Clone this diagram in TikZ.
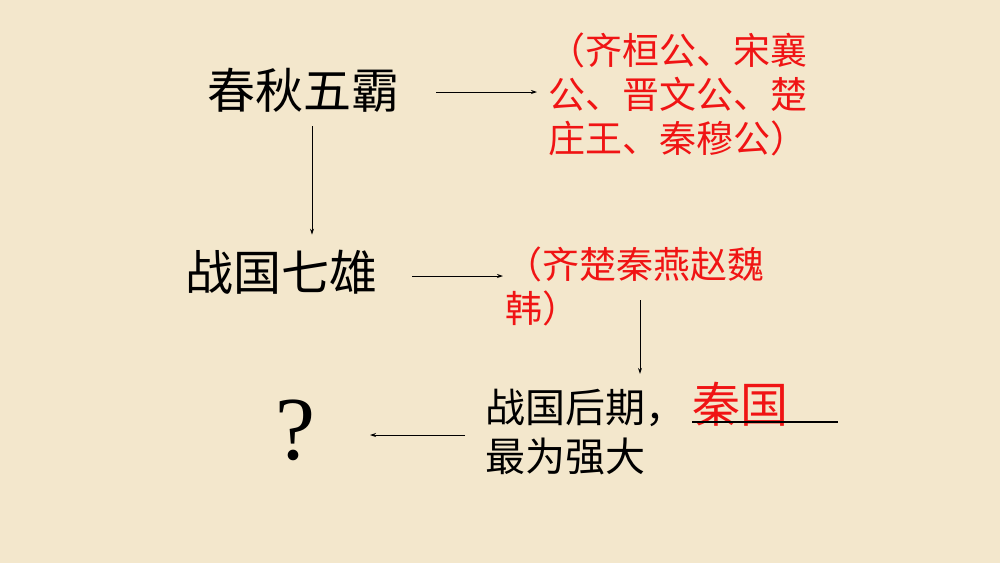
\documentclass[tikz,border=0pt]{standalone}
\usepackage{fontspec}
\setmainfont{Liberation Serif}
\newfontfamily\cjk{Noto Sans CJK SC}
\usetikzlibrary{arrows.meta}
\definecolor{bg}{HTML}{F3E7CC}
\definecolor{redtxt}{HTML}{F01414}
\begin{document}
\begin{tikzpicture}[x=1pt,y=-1pt,
  bigtxt/.style={inner sep=0pt,anchor=west,font=\cjk\fontsize{48}{58}\selectfont},
  redblock/.style={inner sep=0pt,anchor=west,align=left,text=redtxt,font=\cjk\fontsize{37}{44}\selectfont},
  midtxt/.style={inner sep=0pt,anchor=west,align=left,font=\cjk\fontsize{40}{49}\selectfont},
  arr/.style={draw=black,line width=0.8pt,-{Stealth[length=6pt,width=4pt]}}]
\fill[bg] (0,0) rectangle (1000,563);
\useasboundingbox (0,0) rectangle (1000,563);
% texts
\node[bigtxt] (cq) at (207,90) {春秋五霸};
\node[redblock] (wuba) at (548,94) {（齐桓公、宋襄\\公、晋文公、楚\\庄王、秦穆公）};
\node[bigtxt] (zg) at (185,272) {战国七雄};
\node[redblock] (qixiong) at (505,286) {（齐楚秦燕赵魏\\韩）};
\node[midtxt] (late) at (485,432) {战国后期，\\最为强大};
\node[inner sep=0pt,anchor=west,text=redtxt,font=\cjk\fontsize{48}{58}\selectfont] (qin) at (692,404) {秦国};
\node[inner sep=0pt,font=\fontsize{90}{100}\selectfont] (q) at (295,430) {?};
% helper coordinates
\coordinate (y1) at (0,92);
\coordinate (y2) at (0,276);
\coordinate (y3) at (0,435);
\coordinate (x1) at (312,0);
\coordinate (x2) at (640,0);
\coordinate (ulend) at (838,422);
% connectors
\draw[arr,shorten <=37pt,shorten >=11pt] (cq.east |- y1) -- (wuba.west |- y1);
\draw[arr,shorten <=14pt,shorten >=15pt] (cq.south -| x1) -- (zg.north -| x1);
\draw[arr,shorten <=35pt,shorten >=2pt] (zg.east |- y2) -- (qixiong.west |- y2);
\draw[arr,shorten <=14pt,shorten >=15pt] (qixiong.center -| x2) -- (late.north -| x2);
\draw[arr,shorten <=20pt,shorten >=75pt] (late.west |- y3) -- (q.center |- y3);
\draw[line width=1.2pt] (qin.west |- ulend) -- (ulend);
\end{tikzpicture}
\end{document}
